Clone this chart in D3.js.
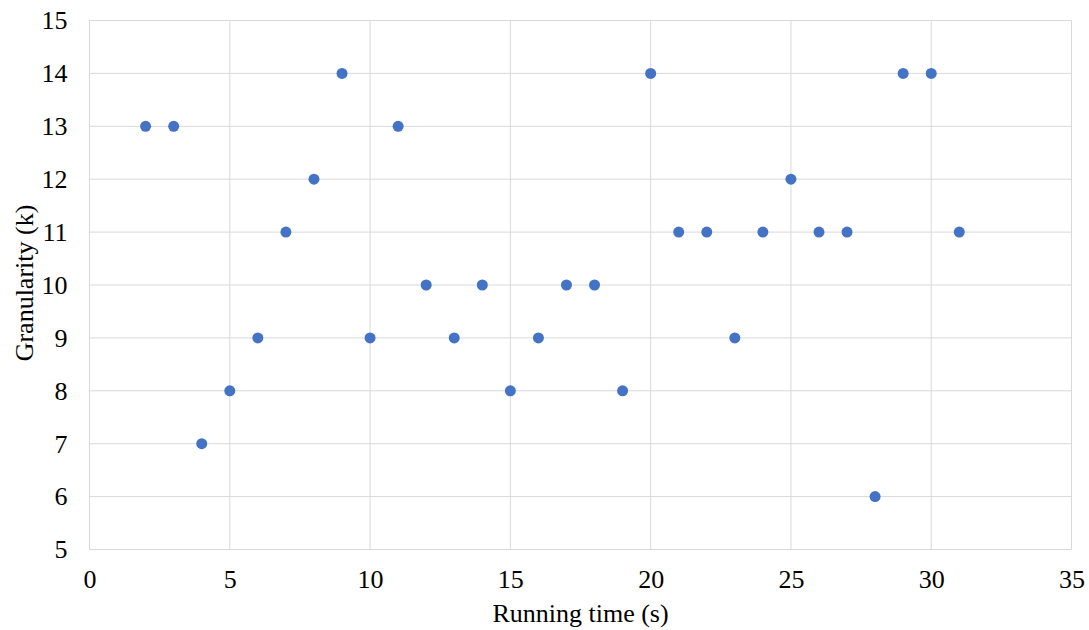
<!DOCTYPE html>
<html>
<head>
<meta charset="utf-8">
<script src="https://cdn.jsdelivr.net/npm/d3@7"></script>
<style>
  body { margin: 0; background: #fff; }
  .grid line { stroke: #d9d9d9; stroke-width: 1; }
  .axis path, .axis line { display: none; }
</style>
</head>
<body>
<svg id="chart" width="1089" height="630"></svg>
<script>
// running time (s) vs granularity (k)
const runningTime = [2, 3, 4, 5, 6, 7, 8, 9, 10, 11, 12, 13, 14, 15, 16, 17, 18, 19, 20, 21, 22, 23, 24, 25, 26, 27, 28, 29, 30, 31];
const granularity = [13, 13, 7, 8, 9, 11, 12, 14, 9, 13, 10, 9, 10, 8, 9, 10, 10, 8, 14, 11, 11, 9, 11, 12, 11, 11, 6, 14, 14, 11];
const xTicks = [0, 5, 10, 15, 20, 25, 30, 35];
const yTicks = [5, 6, 7, 8, 9, 10, 11, 12, 13, 14, 15];

const FONT = "'Liberation Serif', 'Times New Roman', serif";

const svg = d3.select("#chart").attr("font-family", FONT);
const plotLeft = 89.5, plotRight = 1071.5, plotTop = 20.5, plotBottom = 549.5;

const x = d3.scaleLinear().domain([0, 35]).range([plotLeft, plotRight]);
const y = d3.scaleLinear().domain([5, 15]).range([plotBottom, plotTop]);

// gridlines
const grid = svg.append("g").attr("class", "grid");
grid.selectAll(".gx").data(xTicks).join("line")
  .attr("x1", d => x(d)).attr("x2", d => x(d))
  .attr("y1", plotTop).attr("y2", plotBottom);
grid.selectAll(".gy").data(yTicks).join("line")
  .attr("x1", plotLeft).attr("x2", plotRight)
  .attr("y1", d => y(d)).attr("y2", d => y(d));

// axes (labels only)
svg.append("g").attr("class", "axis")
  .attr("transform", `translate(0,${plotBottom})`)
  .call(d3.axisBottom(x).tickValues(xTicks).tickSize(0).tickPadding(20))
  .attr("font-family", FONT).attr("font-size", 26)
  .selectAll("text").attr("fill", "#000");

svg.append("g").attr("class", "axis")
  .attr("transform", `translate(${plotLeft},0)`)
  .call(d3.axisLeft(y).tickValues(yTicks).tickSize(0).tickPadding(22))
  .attr("font-family", FONT).attr("font-size", 26)
  .selectAll("text").attr("fill", "#000");

// points
svg.append("g").selectAll("circle")
  .data(runningTime.map((t, i) => [t, granularity[i]]))
  .join("circle")
  .attr("cx", d => x(d[0]))
  .attr("cy", d => y(d[1]))
  .attr("r", 5.5)
  .attr("fill", "#4472c4");

// titles
svg.append("text")
  .attr("x", (plotLeft + plotRight) / 2).attr("y", 622)
  .attr("text-anchor", "middle")
  .attr("font-size", 26)
  .text("Running time (s)");

svg.append("text")
  .attr("transform", `translate(33,${(plotTop + plotBottom) / 2 - 2}) rotate(-90)`)
  .attr("text-anchor", "middle")
  .attr("font-size", 26)
  .text("Granularity (k)");
</script>
</body>
</html>
